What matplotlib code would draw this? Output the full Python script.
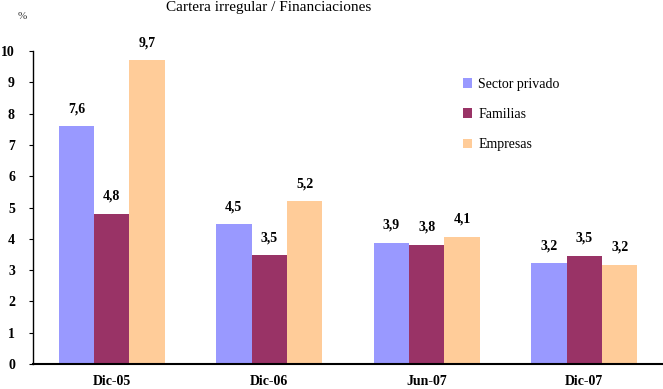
import numpy as np
import matplotlib
matplotlib.use('Agg')
import matplotlib.pyplot as plt

plt.rcParams['font.family'] = ['Liberation Serif', 'DejaVu Serif']

periodos = ['Dic-05', 'Dic-06', 'Jun-07', 'Dic-07']
sector_privado = [7.6, 4.46, 3.87, 3.22]
familias = [4.8, 3.48, 3.81, 3.46]
empresas = [9.7, 5.2, 4.06, 3.17]
series = ['Sector privado', 'Familias', 'Empresas']
colores = ['#9999ff', '#993366', '#ffcc99']

fig = plt.figure(figsize=(6.63, 3.89), dpi=100)
ax = fig.add_axes([0.0498, 0.064, 0.955, 0.805])

x = np.arange(len(periodos))
w = 0.225
for i, (vals, nom, col) in enumerate(zip([sector_privado, familias, empresas], series, colores)):
    pos = x + (i - 1) * w
    ax.bar(pos, vals, w, color=col, label=nom)
    for px, v in zip(pos, vals):
        ax.text(px, v + 0.35, f'{v:.1f}'.replace('.', ','), ha='center', va='bottom',
                fontsize=10, fontweight='bold')

ax.set_xlim(-0.5, 3.52)
ax.set_ylim(0, 10)
ax.set_yticks(range(0, 11))
ax.set_yticklabels([str(t) for t in range(0, 11)], fontweight='bold', fontsize=10)
ax.set_xticks(x)
ax.set_xticklabels(periodos, fontweight='bold', fontsize=10)
ax.tick_params(axis='x', length=0, pad=8)
ax.tick_params(axis='y', length=3, width=0.8, pad=10)
ax.spines['top'].set_visible(False)
ax.spines['right'].set_visible(False)
ax.spines['left'].set_linewidth(1.0)
ax.spines['bottom'].set_linewidth(1.5)

ax.legend(loc='upper left', bbox_to_anchor=(0.659, 0.955), frameon=False, fontsize=10,
          handlelength=0.7, handleheight=0.7, handletextpad=0.4, labelspacing=1.25)

fig.text(0.027, 0.957, '%', fontsize=8, ha='left', va='center', color='#333333')
fig.text(0.405, 0.997, 'Cartera irregular / Financiaciones', fontsize=11, ha='center', va='top')

fig.savefig('out.png', dpi=100)
